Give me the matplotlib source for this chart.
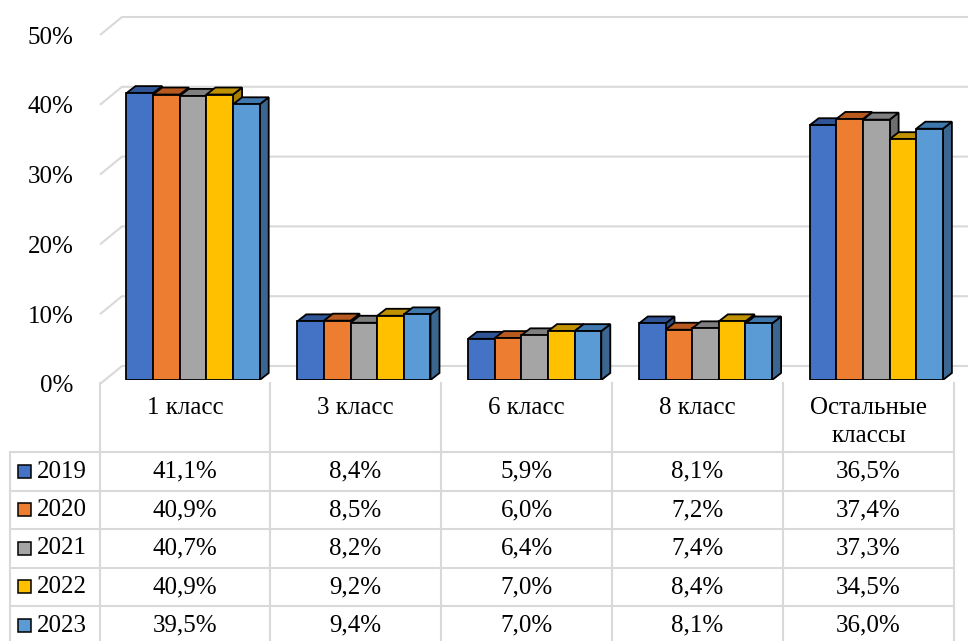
import matplotlib.pyplot as plt
import matplotlib.transforms as mtransforms
from matplotlib.patches import Polygon, Rectangle

plt.rcParams['font.family'] = ['Liberation Serif', 'DejaVu Serif']

# Data
categories = ["1 класс", "3 класс", "6 класс", "8 класс", "Остальные\nклассы"]
years = ["2019", "2020", "2021", "2022", "2023"]
v2019 = [41.1, 8.4, 5.9, 8.1, 36.5]
v2020 = [40.9, 8.5, 6.0, 7.2, 37.4]
v2021 = [40.7, 8.2, 6.4, 7.4, 37.3]
v2022 = [40.9, 9.2, 7.0, 8.4, 34.5]
v2023 = [39.5, 9.4, 7.0, 8.1, 36.0]
series = [v2019, v2020, v2021, v2022, v2023]
yticks = [0, 10, 20, 30, 40, 50]

# Styles
front = ["#4472C4", "#ED7D31", "#A5A5A5", "#FFC000", "#5B9BD5"]
top = ["#2F5597", "#B85A1F", "#7F7F7F", "#C09100", "#3E78AD"]
side = ["#2A4C85", "#A24F1B", "#6E6E6E", "#A67E00", "#3A6690"]
grid_c = "#D9D9D9"
FS = 18
EW = 1.3

W, H = 968, 641
fig = plt.figure(figsize=(W / 100, H / 100), dpi=100)

# geometry (pixels)
px_left, px_zero = 100, 380
px_per_pct = 6.98
col_w = 170.8
ymax = 53

# table / background axes in pixel coords
tax = fig.add_axes([0, 0, 1, 1], zorder=0)
tax.set_xlim(0, W)
tax.set_ylim(H, 0)
tax.axis("off")

# chart axes
ax = fig.add_axes([px_left / W, (H - px_zero) / H, (W - px_left) / W,
                   ymax * px_per_pct / H], zorder=1)
ax.patch.set_visible(False)
xmax = (W - px_left) / col_w
ax.set_xlim(0, xmax)
ax.set_ylim(0, ymax)
for s in ax.spines.values():
    s.set_visible(False)
ax.set_xticks([])
ax.set_yticks(yticks)
ax.set_yticklabels([f"{v}%" for v in yticks], fontsize=FS)
ax.tick_params(axis="y", length=0, pad=19)
shift = mtransforms.ScaledTranslation(0, -4 / 100, fig.dpi_scale_trans)
for lab in ax.get_yticklabels():
    lab.set_transform(lab.get_transform() + shift)

# back wall gridlines (3D offset)
gx = 22 / col_w
gy = 18 / px_per_pct
g0 = -4 / px_per_pct
for v in yticks:
    ax.plot([0, gx, xmax], [v + g0, v + g0 + gy, v + g0 + gy], color=grid_c, lw=1.5,
            zorder=1, clip_on=False, solid_capstyle="butt")

# 3D bars
bw = 0.156
off = 0.155
dx = 9 / col_w
dy = 7 / px_per_pct
for c in range(len(categories)):
    for j, vals in enumerate(series):
        x0 = c + off + j * bw
        h = vals[c]
        z = 3 + j * 0.1
        ax.add_patch(Polygon([(x0 + bw, 0), (x0 + bw + dx, dy), (x0 + bw + dx, h + dy), (x0 + bw, h)],
                             closed=True, facecolor=side[j], edgecolor="black", lw=EW, zorder=z))
        ax.add_patch(Polygon([(x0, h), (x0 + dx, h + dy), (x0 + bw + dx, h + dy), (x0 + bw, h)],
                             closed=True, facecolor=top[j], edgecolor="black", lw=EW, zorder=z + 0.01))
        ax.bar(x0, h, width=bw, align="edge", color=front[j], edgecolor="black",
               lw=EW, zorder=z + 0.02)

# data table
col_x = [100, 270, 441, 612, 783, 954]
row_y = [452, 491, 529, 568, 606, 645]
for x in col_x:
    tax.plot([x, x], [383, H], color=grid_c, lw=1.5)
tax.plot([10, 10], [row_y[0], H], color=grid_c, lw=1.5)
for y in row_y[:-1]:
    tax.plot([10, col_x[-1]], [y, y], color=grid_c, lw=1.5)

for c, name in enumerate(categories):
    cx = (col_x[c] + col_x[c + 1]) / 2
    tax.text(cx, 397, name, ha="center", va="top", fontsize=FS, linespacing=1.35)

for r, (yr, vals) in enumerate(zip(years, series)):
    cy = (row_y[r] + row_y[r + 1]) / 2
    tax.add_patch(Rectangle((18, cy - 7), 13, 13, facecolor=front[r],
                            edgecolor="black", lw=1.1))
    tax.text(37, cy, yr, ha="left", va="center", fontsize=FS)
    for c in range(len(categories)):
        cx = (col_x[c] + col_x[c + 1]) / 2
        tax.text(cx, cy, f"{vals[c]:.1f}%".replace(".", ","), ha="center",
                 va="center", fontsize=FS)

fig.savefig("out.png", dpi=100)
